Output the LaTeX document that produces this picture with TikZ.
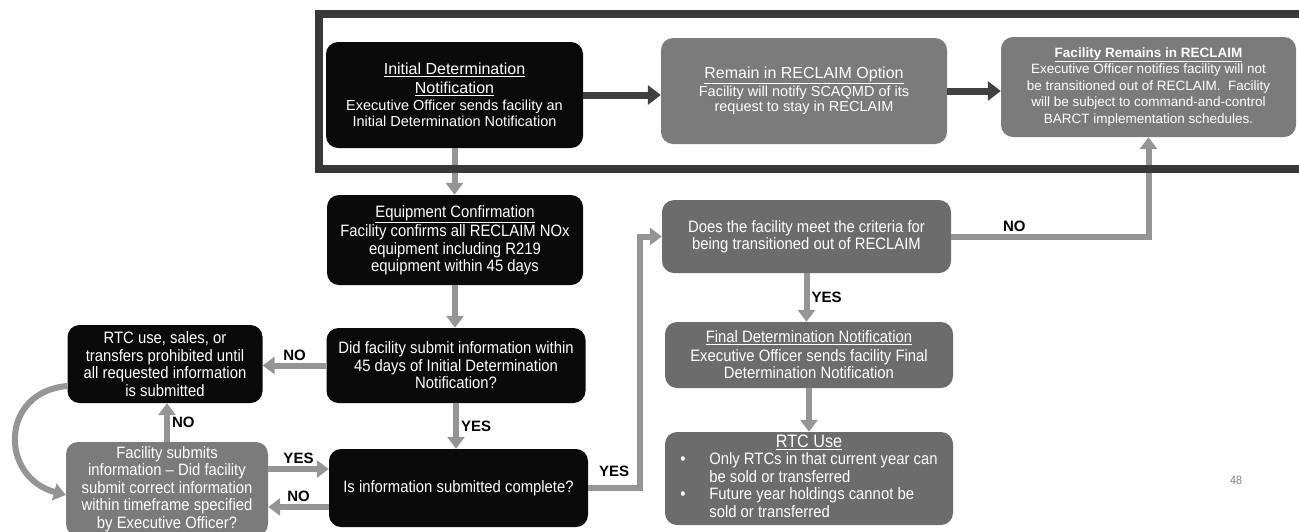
\documentclass[tikz,border=0pt]{standalone}
\usepackage{fontspec}
\setmainfont{Liberation Sans}
\newfontfamily\condensed[Ligatures=TeX,FakeStretch=0.9]{Liberation Sans}
\usetikzlibrary{arrows.meta,calc,positioning}
\definecolor{boxblack}{HTML}{0A0A0A}
\definecolor{boxgray}{HTML}{7B7B7B}
\definecolor{boxdark}{HTML}{6C6C6C}
\definecolor{framegray}{HTML}{383838}
\definecolor{linkgray}{HTML}{959595}
\definecolor{linkdark}{HTML}{404040}
\newcommand{\boxtitle}[1]{\fontsize{16}{17}\selectfont\underline{#1}}
\tikzset{
  box/.style={rounded corners=12pt, text=white, align=center, inner sep=0pt, font=\condensed\fontsize{16.5}{17.5}\selectfont},
  blackbox/.style={box, fill=boxblack},
  graybox/.style={box, fill=boxgray},
  darkbox/.style={box, fill=boxdark},
  flow/.style={draw=linkgray, line width=6pt, -{Triangle[width=17pt,length=12pt]}},
  flowdark/.style={draw=linkdark, line width=7pt, -{Triangle[width=19pt,length=13pt]}},
  answer/.style={font=\fontsize{15}{17}\selectfont\bfseries, text=black, inner sep=2pt},
}

\begin{document}
\begin{tikzpicture}[x=1pt,y=-1pt]
\useasboundingbox (0,0) rectangle (1299,531);
\clip (0,0) rectangle (1299,531);

\node[blackbox, minimum width=257, minimum height=106, font=\fontsize{14.5}{15.5}\selectfont] (init) at (454.5,95)
  {\boxtitle{Initial Determination}\\[3pt] \boxtitle{Notification}\\[2pt] Executive Officer sends facility an\\ Initial Determination Notification};
\node[graybox, minimum width=286, minimum height=106, font=\fontsize{14.5}{15.5}\selectfont] (remain) at (804,91)
  {\boxtitle{Remain in RECLAIM Option}\\[1pt] Facility will notify SCAQMD of its\\ request to stay in RECLAIM};
\node[graybox, minimum width=295, minimum height=100, font=\fontsize{13.5}{16.5}\selectfont] (fr) at (1148.5,87)
  {\textbf{\underline{Facility Remains in RECLAIM}}\\ Executive Officer notifies facility will not\\ be transitioned out of RECLAIM.\ \ Facility\\ will be subject to command-and-control\\ BARCT implementation schedules.};

\node[blackbox, minimum width=256, minimum height=90] (equip) at (455,240)
  {\underline{Equipment Confirmation}\\[2pt] Facility confirms all RECLAIM NOx\\ equipment including R219\\ equipment within 45 days};
\node[blackbox, minimum width=259, minimum height=75] (did) at (456,365.5)
  {Did facility submit information within\\ 45 days of Initial Determination\\ Notification?};
\node[blackbox, minimum width=195, minimum height=78] (rtcpro) at (165,364)
  {RTC use, sales, or\\ transfers prohibited until\\ all requested information\\ is submitted};
\node[blackbox, minimum width=259, minimum height=78] (isinfo) at (458.5,488)
  {Is information submitted complete?};
\node[graybox, minimum width=202, minimum height=94] (submits) at (167,489)
  {Facility submits\\ information -- Did facility\\ submit correct information\\ within timeframe specified\\ by Executive Officer?};

\node[darkbox, minimum width=289, minimum height=73] (does) at (806.5,236.5)
  {Does the facility meet the criteria for\\ being transitioned out of RECLAIM};
\node[darkbox, minimum width=288, minimum height=66] (final) at (809,355)
  {\underline{Final Determination Notification}\\[1pt] Executive Officer sends facility Final\\ Determination Notification};
\node[darkbox, minimum width=288, minimum height=93] (rtcuse) at (809,478.5)
  {\begin{tabular}{@{}p{29pt}@{}l@{}}
   \multicolumn{2}{@{}c@{}}{\fontsize{18}{19}\selectfont\underline{RTC Use}}\\
   \textbullet & Only RTCs in that current year can\\
               & be sold or transferred\\
   \textbullet & Future year holdings cannot be\\
               & sold or transferred
   \end{tabular}};

\node[text=gray, font=\condensed\fontsize{12}{13}\selectfont] (pagenum) at (1236,480) {48};

\draw[flowdark] (init.east) -- (init.east -| remain.west);
\draw[flowdark] (remain.east) -- (remain.east -| fr.west);
\draw[flow] (init.south) -- (init.south |- equip.north);
\draw[flow] (equip.south) -- (equip.south |- did.north);
\draw[flow] (did.west) -- (did.west -| rtcpro.east) node[midway,above,answer] {NO};
\draw[flow] (did.south) -- (did.south |- isinfo.north) node[midway,right,answer] {YES};
\draw[flow] (submits.north) -- (submits.north |- rtcpro.south) node[midway,right,answer] {NO};
\draw[flow] ([yshift=20pt]submits.east) -- ([yshift=20pt]submits.east -| isinfo.west) node[midway,above,answer] {YES};
\draw[flow] ([yshift=-19pt]isinfo.west) -- ([yshift=-19pt]isinfo.west -| submits.east) node[midway,above,answer] {NO};
\draw[flow] ([yshift=-22pt]rtcpro.west) to[out=185,in=165,looseness=1.6] ([yshift=-6pt]submits.west);
\draw[flow] (isinfo.east) -- ++(52,0) node[midway,above,answer,yshift=6pt] {YES} |- (does.west);
\draw[flow] (does.east) -| (fr.south) node[pos=0.16,above,answer] {NO};
\draw[flow] (does.south) -- (does.south |- final.north) node[midway,right,answer] {YES};
\draw[flow] (final.south) -- (final.south |- rtcuse.north);

\draw[draw=framegray, line width=8pt] (1310,14) -- (319,14) -- (319,169) -- (1310,169);
\end{tikzpicture}
\end{document}
